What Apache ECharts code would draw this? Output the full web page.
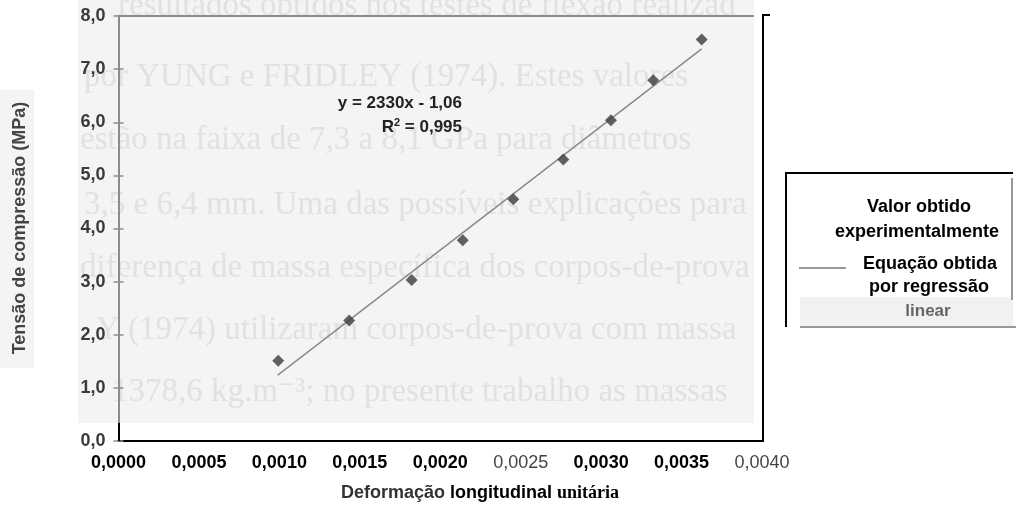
<!DOCTYPE html>
<html>
<head>
<meta charset="utf-8">
<script src="https://cdn.jsdelivr.net/npm/echarts@6/dist/echarts.min.js"></script>
<style>html,body{margin:0;padding:0;background:#fff}#c{width:1016px;height:507px}</style>
</head>
<body>
<div id="c"></div>
<script>
// Experimental points (strain, stress MPa)
var strainValues = [0.000993, 0.001434, 0.001822, 0.002140, 0.002454, 0.002765, 0.003061, 0.003324, 0.003625];
var stressValues = [1.51, 2.27, 3.03, 3.78, 4.55, 5.30, 6.04, 6.79, 7.56];
// Regression line end points
var trendStrain = [0.00099, 0.003625];
var trendStress = [1.24, 7.38];
// Axis ticks
var xTicks = [0, 0.0005, 0.001, 0.0015, 0.002, 0.0025, 0.003, 0.0035, 0.004];
var xTickLabels = ['0,0000','0,0005','0,0010','0,0015','0,0020','0,0025','0,0030','0,0035','0,0040'];
var yTickLabels = ['0,0','1,0','2,0','3,0','4,0','5,0','6,0','7,0','8,0'];
var lightXLabels = ['0,0025','0,0040'];
// Texts
var seriesNames = ['Valor obtido experimentalmente', 'Equação obtida por regressão linear'];
var equationText = 'y = 2330x - 1,06';
var r2Text = '0,995';
var yTitle = 'Tensão de compressão (MPa)';
// faint scanned page text behind the plot
var ghostLines = [
  ['resultados obtidos nos testes de flexão realizados', 118, 6],
  ['por YUNG e FRIDLEY (1974). Estes valores', 84, 77],
  ['estão na faixa de 7,3 a 8,1 GPa para diâmetros', 80, 140],
  ['3,5 e 6,4 mm. Uma das possíveis explicações para', 84, 205],
  ['diferença de massa específica dos corpos-de-prova', 80, 268],
  ['Y (1974) utilizaram corpos-de-prova com massa específica na faixa', 96, 330],
  ['1378,6 kg.m⁻³; no presente trabalho as massas', 112, 392]
];

var chart = echarts.init(document.getElementById('c'), null, {renderer: 'canvas'});

var ghostEls = ghostLines.map(function (g) {
  return {
    type: 'text', z: -20, silent: true,
    x: g[1], y: g[2],
    style: {
      text: g[0], font: '33px "Liberation Serif", "DejaVu Serif", serif',
      fill: '#e1e1e1', verticalAlign: 'middle', align: 'left',
      width: 754 - g[1], overflow: 'truncate', ellipsis: ''
    }
  };
});

var sans = '"Liberation Sans", Arial, sans-serif';

var graphics = [
  {type: 'rect', z: -30, silent: true, shape: {x: 78, y: 0, width: 676, height: 423}, style: {fill: '#f4f4f4'}},
  {type: 'rect', z: -30, silent: true, shape: {x: 0, y: 90, width: 34, height: 278}, style: {fill: '#f4f4f4'}},
  {type: 'rect', z: -30, silent: true, shape: {x: 800, y: 297, width: 213, height: 30}, style: {fill: '#f1f1f1'}}
].concat(ghostEls).concat([
  // frame: gray top, black right
  {type: 'line', z: 5, shape: {x1: 118, y1: 16, x2: 754, y2: 16}, style: {stroke: '#8c8c8c', lineWidth: 2}},
  {type: 'line', z: 5, shape: {x1: 763, y1: 14, x2: 763, y2: 442}, style: {stroke: '#000', lineWidth: 2}},
  {type: 'line', z: 5, shape: {x1: 762, y1: 15, x2: 770, y2: 15}, style: {stroke: '#000', lineWidth: 2}},
  {type: 'line', z: 5, shape: {x1: 119, y1: 423, x2: 119, y2: 441}, style: {stroke: '#000', lineWidth: 2}},
  // equation
  {type: 'text', z: 10, x: 462, y: 103, style: {text: equationText, font: 'bold 17px ' + sans, fill: '#222', align: 'right', verticalAlign: 'middle'}},
  {type: 'text', z: 10, x: 462, y: 127, style: {
    text: '{a|R}{s|2}{a| = ' + r2Text + '}', align: 'right', verticalAlign: 'middle',
    rich: {a: {font: 'bold 17px ' + sans, fill: '#222'}, s: {font: 'bold 11px ' + sans, fill: '#222', verticalAlign: 'top', padding: [0,0,8,0]}}
  }},
  // y title
  {type: 'text', z: 10, x: 20, y: 228, rotation: Math.PI / 2, style: {text: yTitle, font: 'bold 18px ' + sans, fill: '#444', align: 'center', verticalAlign: 'middle'}},
  // x title
  {type: 'text', z: 10, x: 480, y: 493, style: {
    text: '{a|Deformação }{b|longitudinal }{c|unitária}', align: 'center', verticalAlign: 'middle',
    rich: {
      a: {font: 'bold 18px ' + sans, fill: '#333'},
      b: {font: 'bold 18px ' + sans, fill: '#000'},
      c: {font: 'bold 18px "Liberation Serif", serif', fill: '#000'}
    }
  }},
  // legend box
  {type: 'line', z: 5, shape: {x1: 786, y1: 173, x2: 1013, y2: 173}, style: {stroke: '#000', lineWidth: 2}},
  {type: 'line', z: 5, shape: {x1: 786, y1: 172, x2: 786, y2: 327}, style: {stroke: '#000', lineWidth: 2}},
  {type: 'line', z: 5, shape: {x1: 1012, y1: 178, x2: 1012, y2: 300}, style: {stroke: '#999', lineWidth: 2}},
  {type: 'line', z: 5, shape: {x1: 800, y1: 327, x2: 1016, y2: 327}, style: {stroke: '#999', lineWidth: 2}},
  {type: 'text', z: 10, x: 919, y: 207, style: {text: 'Valor obtido', font: 'bold 18px ' + sans, fill: '#000', align: 'center', verticalAlign: 'middle'}},
  {type: 'text', z: 10, x: 917, y: 232, style: {text: 'experimentalmente', font: 'bold 18px ' + sans, fill: '#000', align: 'center', verticalAlign: 'middle'}},
  {type: 'line', z: 5, shape: {x1: 799, y1: 268, x2: 846, y2: 268}, style: {stroke: '#777', lineWidth: 1.5}},
  {type: 'text', z: 10, x: 930, y: 264, style: {text: 'Equação obtida', font: 'bold 18px ' + sans, fill: '#000', align: 'center', verticalAlign: 'middle'}},
  {type: 'text', z: 10, x: 929, y: 287, style: {text: 'por regressão', font: 'bold 18px ' + sans, fill: '#000', align: 'center', verticalAlign: 'middle'}},
  {type: 'text', z: 10, x: 928, y: 311, style: {text: 'linear', font: 'bold 17px ' + sans, fill: '#666', align: 'center', verticalAlign: 'middle'}}
]);

var option = {
  backgroundColor: '#ffffff',
  animation: false,
  grid: {left: 118.5, right: 254, top: 16, bottom: 66, containLabel: false},
  xAxis: {
    type: 'value', min: 0, max: 0.004, interval: 0.0005,
    axisLine: {show: true, onZero: false, lineStyle: {color: '#000', width: 2}},
    axisTick: {show: false},
    splitLine: {show: false},
    axisLabel: {
      margin: 13,
      formatter: function (v) {
        var i = xTicks.findIndex(function (t) { return Math.abs(t - v) < 1e-9; });
        var s = i >= 0 ? xTickLabels[i] : '';
        return lightXLabels.indexOf(s) >= 0 ? '{l|' + s + '}' : '{b|' + s + '}';
      },
      rich: {
        b: {fontFamily: sans, fontWeight: 'bold', fontSize: 18, color: '#000'},
        l: {fontFamily: sans, fontWeight: 'normal', fontSize: 18, color: '#444'}
      }
    }
  },
  yAxis: [{
    type: 'value', min: 0, max: 8, interval: 1,
    axisLine: {show: true, lineStyle: {color: '#8c8c8c', width: 2}},
    axisTick: {show: true, length: 5, lineStyle: {color: '#8c8c8c', width: 1.5}},
    splitLine: {show: false},
    axisLabel: {
      margin: 13,
      formatter: function (v) { return yTickLabels[Math.round(v)]; },
      fontFamily: sans, fontWeight: 'bold', fontSize: 18, color: '#3a3a3a'
    }
  }, {
    type: 'value', min: 0, max: 8, interval: 1, position: 'left',
    axisLine: {show: false},
    axisTick: {show: true, inside: true, length: 5, lineStyle: {color: '#8c8c8c', width: 1.5}},
    axisLabel: {show: false},
    splitLine: {show: false}
  }],
  graphic: {elements: graphics},
  series: [{
    name: seriesNames[0],
    type: 'scatter',
    symbol: 'diamond',
    symbolSize: 12,
    itemStyle: {color: '#3b3b3b'},
    z: 4,
    data: strainValues.map(function (x, i) { return [x, stressValues[i]]; })
  }, {
    name: seriesNames[1],
    type: 'line',
    showSymbol: false,
    symbol: 'none',
    lineStyle: {color: '#8a8a8a', width: 1.5},
    z: 3,
    data: trendStrain.map(function (x, i) { return [x, trendStress[i]]; })
  }]
};
chart.setOption(option);
</script>
</body>
</html>
